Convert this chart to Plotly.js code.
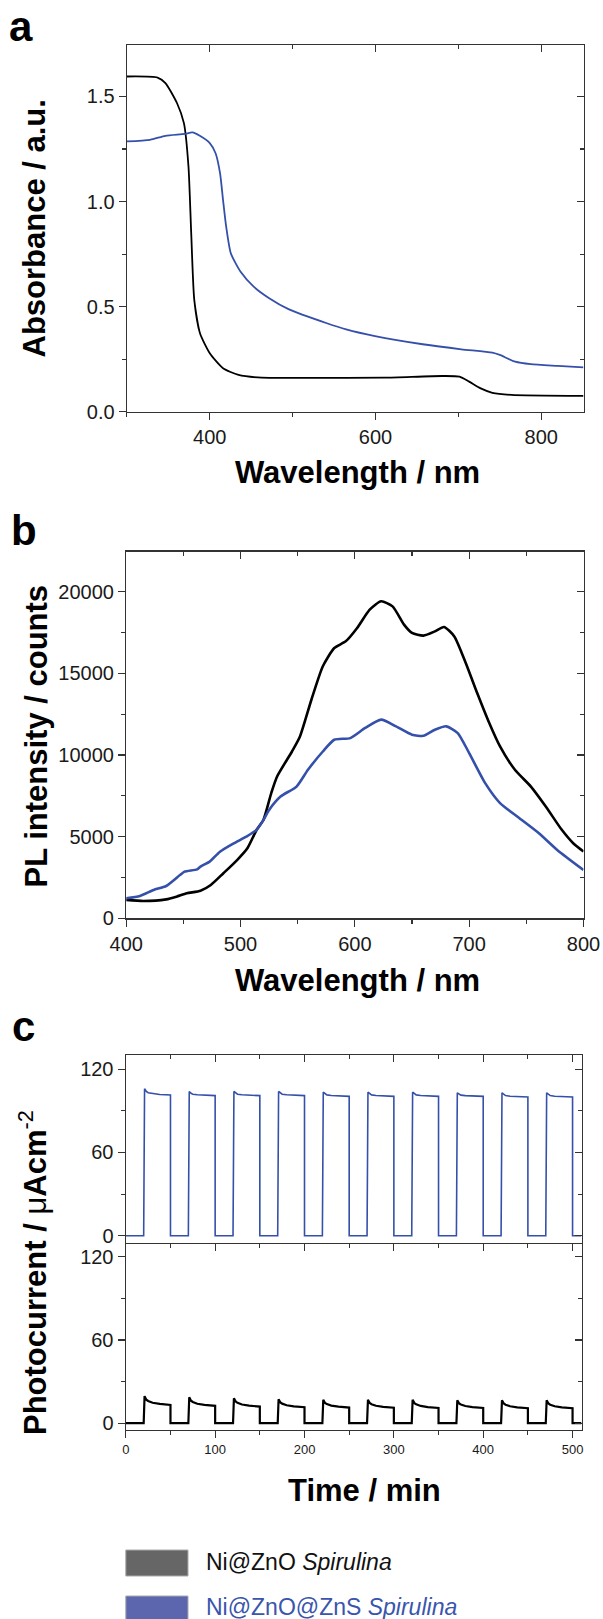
<!DOCTYPE html>
<html>
<head>
<meta charset="utf-8">
<script src="https://cdn.plot.ly/plotly-3.0.1.min.js"></script>
<style>html,body{margin:0;padding:0;background:#fff;}#chart{width:603px;height:1619px;}</style>
</head>
<body>
<div id="chart"></div>
<script>
// ---------- Panel a: absorbance ----------
const absWl_ZnO = [300, 337, 346.5, 360.4, 368.8, 374.3, 377.6, 381.3, 388.2, 400, 416, 434.7, 462.5, 520, 611, 680.5, 701.4, 713, 727, 741, 764, 851];
const abs_ZnO   = [1.595, 1.59, 1.564, 1.469, 1.373, 1.167, 0.85, 0.532, 0.373, 0.278, 0.207, 0.175, 0.162, 0.161, 0.162, 0.17, 0.167, 0.143, 0.111, 0.09, 0.08, 0.075];
const absWl_ZnS = [300, 328, 346.5, 369.7, 379, 388, 400, 407, 412.4, 416, 419.8, 425.4, 437, 453, 471.7, 495, 541.3, 564.6, 599.4, 657, 703.7, 741, 750, 768.6, 787.3, 820, 851];
const abs_ZnS   = [1.286, 1.294, 1.313, 1.322, 1.329, 1.313, 1.278, 1.23, 1.135, 1.008, 0.881, 0.754, 0.667, 0.595, 0.54, 0.488, 0.421, 0.392, 0.36, 0.321, 0.297, 0.281, 0.27, 0.238, 0.226, 0.218, 0.211];

// ---------- Panel b: photoluminescence ----------
const plWl_ZnO = [400, 415, 435, 444, 453, 465, 474, 485, 497, 506, 514, 520, 527, 532, 545, 552, 562, 572, 582, 592, 602, 613, 623, 633, 643, 650, 660, 670, 678, 687, 697, 707, 717, 727, 740, 754, 767, 781, 791, 800];
const pl_ZnO   = [1130, 1060, 1160, 1325, 1530, 1690, 2040, 2760, 3570, 4290, 5410, 6020, 7700, 8690, 10220, 11140, 13390, 15440, 16560, 16970, 17790, 18910, 19420, 19110, 17990, 17480, 17320, 17580, 17850, 17270, 15640, 13800, 12060, 10530, 9100, 8070, 6850, 5420, 4600, 4090];
const plWl_ZnS = [400, 412, 424, 435, 447, 451, 462, 465, 473, 482, 494, 505, 514, 520, 525, 535, 549, 559, 572, 582, 596, 609, 623, 636, 650, 660, 670, 680, 690, 700, 714, 727, 744, 761, 777, 800];
const pl_ZnS   = [1225, 1370, 1735, 1980, 2650, 2860, 3000, 3170, 3470, 4080, 4590, 5000, 5410, 6020, 6640, 7460, 8070, 9100, 10220, 10940, 11040, 11660, 12170, 11760, 11250, 11180, 11550, 11760, 11350, 10120, 8280, 7060, 6130, 5210, 4190, 2960];

// ---------- Panel c: photocurrent on/off cycles ----------
const lightOn  = [20, 70, 120, 170, 220, 270, 320, 370, 420, 470];   // min
const lightOff = [50, 100, 150, 200, 250, 300, 350, 400, 450, 500];  // min
const timeEnd = 510;
const decayT = [1, 3, 5, 10, 18, 30];                       // min after light on
const blueDecay  = [1, 0.55, 0.35, 0.2, 0.08, 0];           // fraction of spike above final level
const blackDecay = [1, 0.6, 0.45, 0.25, 0.11, 0];
const peak_ZnS  = [106, 104, 104, 104, 103.5, 103.5, 103.5, 103, 103, 103];
const final_ZnS = [101.5, 101, 101, 101, 100.5, 100.5, 100.5, 100.5, 100, 100];
const peak_ZnO  = [19.5, 18.7, 18, 17.3, 16.8, 16.8, 16.8, 16.5, 16.5, 16.5];
const final_ZnO = [13.2, 12.5, 12, 11.5, 11.3, 11.2, 11, 11, 10.8, 10.8];

const seriesNames = ['Ni@ZnO <i>Spirulina</i>', 'Ni@ZnO@ZnS <i>Spirulina</i>'];
const COL_BLACK = '#000000';
const COL_BLUE = '#3550aa';

function buildCycles(peaks, finals, fracs) {
  const t = [0], v = [0];
  for (let i = 0; i < lightOn.length; i++) {
    t.push(lightOn[i]); v.push(0);
    for (let k = 0; k < decayT.length; k++) {
      t.push(lightOn[i] + decayT[k]);
      v.push(finals[i] + fracs[k] * (peaks[i] - finals[i]));
    }
    t.push(lightOff[i]); v.push(0);
  }
  t.push(timeEnd); v.push(0);
  return {t, v};
}
const cycZnS = buildCycles(peak_ZnS, final_ZnS, blueDecay);
const cycZnO = buildCycles(peak_ZnO, final_ZnO, blackDecay);

// ---------- layout helpers ----------
const W = 603, H = 1619;
const FONT = 'Liberation Sans, Arial, Helvetica, sans-serif';
const px = v => v / W;
const py = v => 1 - v / H;

function axis(extra) {
  return Object.assign({
    showline: true, linecolor: '#333', linewidth: 1.3,
    ticks: 'outside', ticklen: 7, tickwidth: 1.2, tickcolor: '#333',
    showgrid: false, zeroline: false, fixedrange: true,
    tickfont: {family: FONT, size: 20, color: '#1a1a1a'}
  }, extra);
}
function mirrorAxis(base, side, extra) {
  return Object.assign({
    overlaying: base, side: side, showline: true, linecolor: '#333', linewidth: 1.3,
    ticks: 'inside', ticklen: 7, tickwidth: 1.2, tickcolor: '#333',
    showticklabels: false, showgrid: false, zeroline: false, fixedrange: true
  }, extra);
}
function minor(dtick, dir) {
  return {dtick: dtick, tick0: 0, ticks: dir, ticklen: 4, tickwidth: 1.1, tickcolor: '#333'};
}

const dA = {x: [px(126.9), px(583.5)], y: [py(411.7), py(45)]};
const dB = {x: [px(126.2), px(583.5)], y: [py(918.3), py(551.7)]};
const dCx = [px(125.8), px(581.5)];
const dC1y = [py(1242.5), py(1055)];
const dC2y = [py(1430), py(1242.5)];

const rA = {x: [300, 851], y: [0, 1.745]};
const rB = {x: [400, 800], y: [0, 22460]};
const rC = {x: [0, 510], y: [-4.9, 130.3]};

const traces = [
  {x: absWl_ZnO, y: abs_ZnO, xaxis: 'x', yaxis: 'y', mode: 'lines', line: {color: COL_BLACK, width: 1.8, shape: 'spline', smoothing: 0.6}, name: seriesNames[0], showlegend: false},
  {x: absWl_ZnS, y: abs_ZnS, xaxis: 'x', yaxis: 'y', mode: 'lines', line: {color: COL_BLUE, width: 1.8, shape: 'spline', smoothing: 0.6}, name: seriesNames[1], showlegend: false},
  {x: [], y: [], xaxis: 'x2', yaxis: 'y2', mode: 'lines', showlegend: false, hoverinfo: 'skip'},
  {x: plWl_ZnO, y: pl_ZnO, xaxis: 'x3', yaxis: 'y3', mode: 'lines', line: {color: COL_BLACK, width: 2.6, shape: 'spline', smoothing: 0.6}, name: seriesNames[0], showlegend: false},
  {x: plWl_ZnS, y: pl_ZnS, xaxis: 'x3', yaxis: 'y3', mode: 'lines', line: {color: COL_BLUE, width: 2.6, shape: 'spline', smoothing: 0.6}, name: seriesNames[1], showlegend: false},
  {x: [], y: [], xaxis: 'x4', yaxis: 'y4', mode: 'lines', showlegend: false, hoverinfo: 'skip'},
  {x: cycZnS.t, y: cycZnS.v, xaxis: 'x5', yaxis: 'y5', mode: 'lines', line: {color: COL_BLUE, width: 1.6}, name: seriesNames[1], showlegend: false},
  {x: [], y: [], xaxis: 'x6', yaxis: 'y6', mode: 'lines', showlegend: false, hoverinfo: 'skip'},
  {x: cycZnO.t, y: cycZnO.v, xaxis: 'x7', yaxis: 'y7', mode: 'lines', line: {color: COL_BLACK, width: 2.2}, name: seriesNames[0], showlegend: false},
  {x: [], y: [], xaxis: 'x8', yaxis: 'y8', mode: 'lines', showlegend: false, hoverinfo: 'skip'}
];

const titleFont = {family: FONT, size: 31, color: '#000'};
const letterFont = {family: FONT, size: 42, color: '#000'};

const layout = {
  width: W, height: H,
  margin: {l: 0, r: 0, t: 0, b: 0},
  paper_bgcolor: '#fff', plot_bgcolor: 'rgba(0,0,0,0)',
  showlegend: false,
  // panel a
  xaxis: axis({domain: dA.x, range: rA.x, anchor: 'y', dtick: 200, tick0: 0, minor: minor(100, 'outside')}),
  yaxis: axis({domain: dA.y, range: rA.y, anchor: 'x', dtick: 0.5, tick0: 0, tickformat: '.1f', minor: minor(0.25, 'outside')}),
  xaxis2: mirrorAxis('x', 'top', {anchor: 'y', range: rA.x, dtick: 200, tick0: 0, minor: minor(100, 'inside')}),
  yaxis2: mirrorAxis('y', 'right', {anchor: 'x', range: rA.y, dtick: 0.5, tick0: 0, minor: minor(0.25, 'inside')}),
  // panel b
  xaxis3: axis({domain: dB.x, range: rB.x, anchor: 'y3', dtick: 100, tick0: 0, minor: minor(50, 'outside')}),
  yaxis3: axis({domain: dB.y, range: rB.y, anchor: 'x3', dtick: 5000, tick0: 0, tickformat: 'd', minor: minor(2500, 'outside')}),
  xaxis4: mirrorAxis('x3', 'top', {anchor: 'y3', range: rB.x, dtick: 100, tick0: 0, minor: minor(50, 'inside')}),
  yaxis4: mirrorAxis('y3', 'right', {anchor: 'x3', range: rB.y, dtick: 5000, tick0: 0, minor: minor(2500, 'inside')}),
  // panel c, upper
  xaxis5: axis({domain: dCx, range: rC.x, anchor: 'y5', dtick: 100, tick0: 0, showticklabels: false, linewidth: 1.1, minor: minor(50, 'outside')}),
  yaxis5: axis({domain: dC1y, range: rC.y, anchor: 'x5', dtick: 60, tick0: 0, minor: minor(30, 'outside')}),
  xaxis6: mirrorAxis('x5', 'top', {anchor: 'y5', range: rC.x, dtick: 100, tick0: 0, minor: minor(50, 'inside')}),
  yaxis6: mirrorAxis('y5', 'right', {anchor: 'x5', range: rC.y, dtick: 60, tick0: 0, minor: minor(30, 'inside')}),
  // panel c, lower
  xaxis7: axis({domain: dCx, range: rC.x, anchor: 'y7', dtick: 100, tick0: 0, tickfont: {family: FONT, size: 13, color: '#1a1a1a'}, minor: minor(50, 'outside')}),
  yaxis7: axis({domain: dC2y, range: rC.y, anchor: 'x7', dtick: 60, tick0: 0, minor: minor(30, 'outside')}),
  xaxis8: mirrorAxis('x7', 'top', {anchor: 'y7', range: rC.x, ticks: '', showline: false, dtick: 100, tick0: 0}),
  yaxis8: mirrorAxis('y7', 'right', {anchor: 'x7', range: rC.y, dtick: 60, tick0: 0, minor: minor(30, 'inside')}),
  annotations: [
    {text: '<b>a</b>', xref: 'paper', yref: 'paper', x: px(21), y: py(26), xanchor: 'center', yanchor: 'middle', showarrow: false, font: letterFont},
    {text: '<b>b</b>', xref: 'paper', yref: 'paper', x: px(23.5), y: py(530), xanchor: 'center', yanchor: 'middle', showarrow: false, font: letterFont},
    {text: '<b>c</b>', xref: 'paper', yref: 'paper', x: px(23), y: py(1026), xanchor: 'center', yanchor: 'middle', showarrow: false, font: letterFont},
    {text: '<b>Wavelength / nm</b>', xref: 'paper', yref: 'paper', x: px(357.7), y: py(472.7), xanchor: 'center', yanchor: 'middle', showarrow: false, font: titleFont},
    {text: '<b>Absorbance / a.u.</b>', xref: 'paper', yref: 'paper', x: px(34), y: py(228.5), xanchor: 'center', yanchor: 'middle', textangle: -90, showarrow: false, font: titleFont},
    {text: '<b>Wavelength / nm</b>', xref: 'paper', yref: 'paper', x: px(357.7), y: py(980), xanchor: 'center', yanchor: 'middle', showarrow: false, font: titleFont},
    {text: '<b>PL intensity / counts</b>', xref: 'paper', yref: 'paper', x: px(36), y: py(736.5), xanchor: 'center', yanchor: 'middle', textangle: -90, showarrow: false, font: titleFont},
    {text: '<b>Time / min</b>', xref: 'paper', yref: 'paper', x: px(364.6), y: py(1490), xanchor: 'center', yanchor: 'middle', showarrow: false, font: titleFont},
    {text: "<b>Photocurrent / </b><span style='font-weight:normal'>μ</span><b>Acm</b><sup>-2</sup>", xref: 'paper', yref: 'paper', x: px(33), y: py(1273), xanchor: 'center', yanchor: 'middle', textangle: -90, showarrow: false, font: titleFont},
    {text: seriesNames[0], xref: 'paper', yref: 'paper', x: px(203.8), y: py(1562), xanchor: 'left', yanchor: 'middle', showarrow: false, font: {family: FONT, size: 23, color: '#111'}},
    {text: seriesNames[1], xref: 'paper', yref: 'paper', x: px(203.8), y: py(1607), xanchor: 'left', yanchor: 'middle', showarrow: false, font: {family: FONT, size: 23, color: '#3a55ad'}}
  ],
  shapes: [
    {type: 'rect', xref: 'paper', yref: 'paper', x0: px(125.8), x1: px(188), y0: py(1576), y1: py(1550), fillcolor: '#666666', line: {color: '#aaaaaa', width: 1}},
    {type: 'rect', xref: 'paper', yref: 'paper', x0: px(125.8), x1: px(188), y0: py(1624), y1: py(1596), fillcolor: '#5b66ae', line: {color: '#aaaaaa', width: 1}}
  ]
};

Plotly.newPlot('chart', traces, layout, {staticPlot: true, displayModeBar: false});
</script>
</body>
</html>
